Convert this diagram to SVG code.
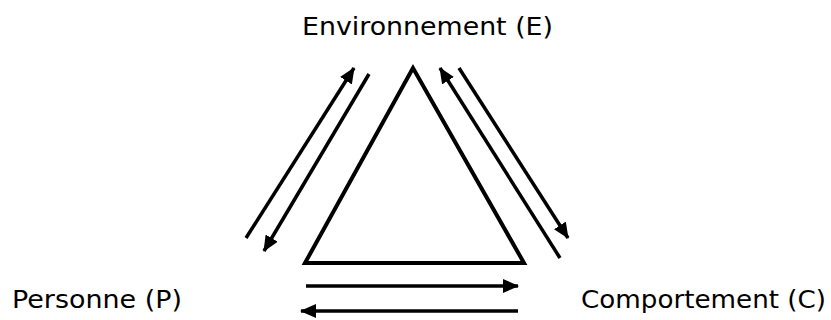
<svg xmlns="http://www.w3.org/2000/svg" width="831" height="320" viewBox="0 0 831 320">
  <style>
    .label { font-family: "DejaVu Sans", Verdana, sans-serif; font-size: 25px; fill: #000; }
    .shape { fill: none; stroke: #000; stroke-width: 4; }
    .link { fill: none; stroke: #000; stroke-width: 3.5; }
  </style>
  <defs>
    <marker id="arrow" viewBox="0 0 16 14" refX="15" refY="7" markerWidth="16" markerHeight="14" markerUnits="userSpaceOnUse" orient="auto">
      <path d="M0,0 L16,7 L0,14 Z" fill="#000"/>
    </marker>
  </defs>
  <rect width="831" height="320" fill="#fff"/>

  <g id="triangle">
    <polygon class="shape" points="413,68 305,263 524,263"/>
  </g>

  <g id="node-e">
    <text class="label" x="302" y="35" textLength="251" lengthAdjust="spacingAndGlyphs">Environnement (E)</text>
  </g>
  <g id="node-p">
    <text class="label" x="12" y="308" textLength="170" lengthAdjust="spacingAndGlyphs">Personne (P)</text>
  </g>
  <g id="node-c">
    <text class="label" x="581" y="308" textLength="245" lengthAdjust="spacingAndGlyphs">Comportement (C)</text>
  </g>

  <g id="connectors">
    <line class="link" x1="246" y1="238" x2="354" y2="68" marker-end="url(#arrow)"/>
    <line class="link" x1="369" y1="74" x2="264" y2="251" marker-end="url(#arrow)"/>
    <line class="link" x1="560" y1="258" x2="440" y2="68" marker-end="url(#arrow)"/>
    <line class="link" x1="459" y1="68" x2="568" y2="238" marker-end="url(#arrow)"/>
    <line class="link" x1="306" y1="286" x2="518" y2="286" marker-end="url(#arrow)"/>
    <line class="link" x1="518" y1="311" x2="301" y2="311" marker-end="url(#arrow)"/>
  </g>
</svg>
